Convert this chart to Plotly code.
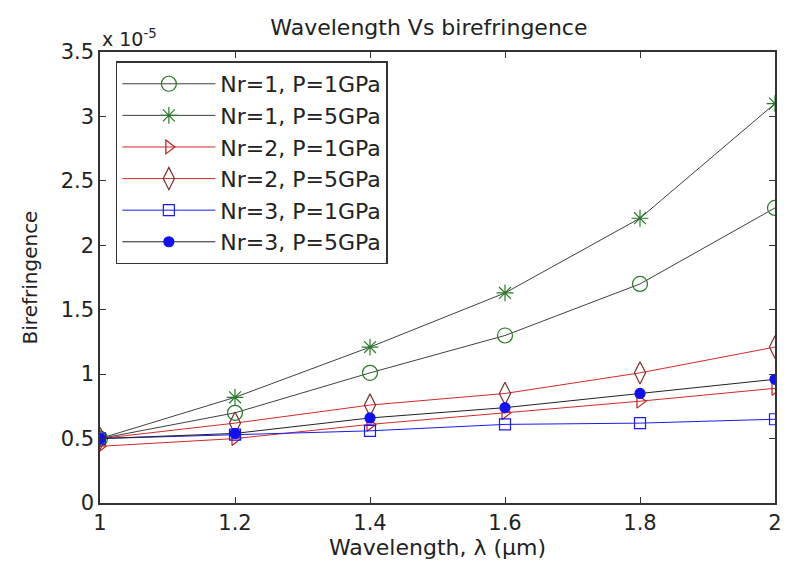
import plotly.graph_objects as go

# Wavelength (um) and birefringence (x 1e-5) for each fibre configuration
wavelength = [1.0, 1.2, 1.4, 1.6, 1.8, 2.0]
nr1_p1 = [0.50, 0.70, 1.01, 1.30, 1.70, 2.29]
nr1_p5 = [0.50, 0.82, 1.21, 1.63, 2.21, 3.10]
nr2_p1 = [0.44, 0.50, 0.61, 0.70, 0.79, 0.89]
nr2_p5 = [0.50, 0.62, 0.76, 0.85, 1.01, 1.21]
nr3_p1 = [0.50, 0.53, 0.56, 0.61, 0.62, 0.65]
nr3_p5 = [0.50, 0.54, 0.66, 0.74, 0.85, 0.96]

names = ["Nr=1, P=1GPa", "Nr=1, P=5GPa", "Nr=2, P=1GPa",
         "Nr=2, P=5GPa", "Nr=3, P=1GPa", "Nr=3, P=5GPa"]
series = [nr1_p1, nr1_p5, nr2_p1, nr2_p5, nr3_p1, nr3_p5]

styles = [
    dict(line="#3a423a", marker="#2a7a2a", symbol="circle-open", size=15),
    dict(line="#3a423a", marker="#2a7a2a", symbol="asterisk-open", size=14),
    dict(line="#d22a2a", marker="#c02020", symbol="triangle-right-open", size=12),
    dict(line="#d22a2a", marker="#7a3030", symbol="diamond-tall-open", size=16),
    dict(line="#1a1aee", marker="#1a1aee", symbol="square-open", size=11),
    dict(line="#222222", marker="#1010f0", symbol="circle", size=10),
]

fig = go.Figure()
for name, ys, st in zip(names, series, styles):
    fig.add_trace(go.Scatter(
        x=wavelength, y=ys, name=name, mode="lines+markers",
        line=dict(color=st["line"], width=1),
        marker=dict(symbol=st["symbol"], size=st["size"], color=st["marker"],
                    line=dict(color=st["marker"], width=1.2)),
    ))

FONT = "DejaVu Sans, sans-serif"
axis_font = dict(family=FONT, size=21, color="#222")

fig.update_layout(
    width=787, height=566,
    margin=dict(l=100, r=5, t=52, b=63),
    paper_bgcolor="white", plot_bgcolor="white",
    showlegend=True,
    title=dict(text="Wavelength Vs birefringence", x=0.545, xanchor="center",
               y=0.952, yanchor="middle",
               font=dict(family=FONT, size=22, color="#222")),
    xaxis=dict(range=[1, 2], tickvals=[1, 1.2, 1.4, 1.6, 1.8, 2],
               ticktext=["1", "1.2", "1.4", "1.6", "1.8", "2"],
               ticks="inside", ticklen=6, tickcolor="#333",
               showline=True, linecolor="#333", linewidth=1.5, mirror="ticks",
               showgrid=False, zeroline=False, tickfont=axis_font,
               title=dict(text="Wavelength, λ (μm)", standoff=6,
                          font=dict(family=FONT, size=22, color="#222"))),
    yaxis=dict(range=[0, 3.5], tickvals=[0, 0.5, 1, 1.5, 2, 2.5, 3, 3.5],
               ticktext=["0", "0.5", "1", "1.5", "2", "2.5", "3", "3.5"],
               ticks="inside", ticklen=6, tickcolor="#333",
               showline=True, linecolor="#333", linewidth=1.5, mirror="ticks",
               showgrid=False, zeroline=False, tickfont=axis_font,
               title=dict(text="Birefringence", standoff=18,
                          font=dict(family=FONT, size=20, color="#222"))),
    legend=dict(x=0.0235, y=0.979, xanchor="left", yanchor="top",
                bgcolor="white", bordercolor="#333", borderwidth=1.5,
                font=dict(family=FONT, size=22, color="#222"),
                itemwidth=93, tracegroupgap=0),
)

fig.add_annotation(
    text="x 10<sup>-5</sup>", xref="paper", yref="paper",
    x=0.0, y=1.0, xanchor="left", yanchor="bottom", showarrow=False,
    yshift=0,
    font=dict(family=FONT, size=19, color="#222"),
)

fig.write_html("out.html")
